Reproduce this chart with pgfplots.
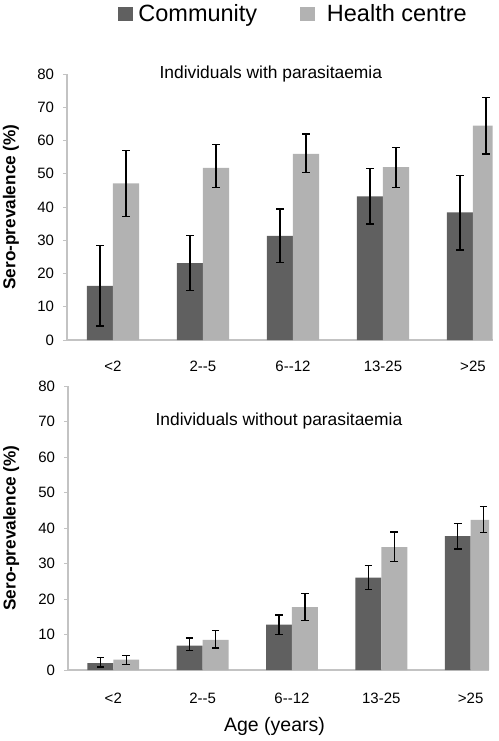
\documentclass[border=0pt]{standalone}
\usepackage{fontspec}
\setmainfont{Liberation Sans}[BoldFont={Liberation Sans Bold}]
\usepackage{pgfplots}
\pgfplotsset{compat=1.18}
\definecolor{darkbar}{RGB}{96,96,96}
\definecolor{lightbar}{RGB}{178,178,178}
\definecolor{axgray}{RGB}{195,195,195}
\newcommand{\tickfont}{\fontsize{15}{18}\selectfont}
\pgfplotsset{
  mystyle/.style={
    scale only axis,
    ymin=0, ymax=80, ytick={0,10,...,80},
    xtick={0,1,2,3,4},
    xticklabels={{<2},{2-\kern0pt-5},{6-\kern0pt-12},{13-25},{>25}},
    enlargelimits=false,
    axis lines*=left,
    axis line style={draw=axgray, line width=1.2pt},
    xtick style={draw=none},
    ytick style={draw=axgray, line width=1pt},
    tick align=outside,
    major tick length=4pt,
    /pgf/number format/assume math mode=true,
    yticklabel style={font=\tickfont, text=black, xshift=-5.5pt},
    xticklabel style={font=\tickfont, text=black},
    ylabel={\fontsize{17.2}{20}\selectfont\bfseries Sero-prevalence (\%)},
    ylabel style={anchor=center},
    title style={font=\fontsize{17.4}{20}\selectfont, anchor=base},
    bar width=0.29,
    clip=true,
  },
  dbar/.style={ybar, bar shift=0pt, fill=darkbar, draw=none,
    error bars/.cd, y dir=both, y explicit,
    error bar style={black, line width=1.3pt},
    error mark options={black, line width=1.3pt, mark size=3.8pt, rotate=90}},
  lbar/.style={ybar, bar shift=0pt, fill=lightbar, draw=none,
    error bars/.cd, y dir=both, y explicit,
    error bar style={black, line width=1.3pt},
    error mark options={black, line width=1.3pt, mark size=3.8pt, rotate=90}},
}
\begin{document}
\begin{tikzpicture}
\path[use as bounding box] (0pt,0pt) rectangle (498pt,-741pt);
% top panel
\begin{axis}[mystyle,
  at={(67pt,-340pt)}, anchor=south west,
  width=425.5pt, height=266pt,
  xmin=-0.51, xmax=4.217,
  xticklabel style={yshift=-13pt},
  ylabel style={at={(axis description cs:-0.1316,0.5)}},
  title={Individuals with parasitaemia},
  title style={at={(axis description cs:0.479,0.962)}},
  legend style={draw=none, fill=none, font=\fontsize{23.5}{26}\selectfont,
    at={(axis description cs:0.5293,1.2256)}, anchor=center,
    nodes={inner xsep=0pt},
    /tikz/column 1/.style={column sep=5.7pt},
    /tikz/column 2/.style={column sep=42.7pt},
    /tikz/column 3/.style={column sep=12pt}},
  legend columns=2,
  legend image code/.code={\draw[#1,draw=none] (0pt,-7pt) rectangle (15pt,7pt);},
]
\addplot[dbar] coordinates {
  (-0.145,16.3) += (0,12.1) -= (0,12.1)
  (0.855,23.1) += (0,8.4)  -= (0,8.3)
  (1.855,31.3) += (0,8.1)  -= (0,8.0)
  (2.855,43.2) += (0,8.3)  -= (0,8.3)
  (3.855,38.4) += (0,11.1) -= (0,11.3)
};
\addlegendentry{Community}
\addplot[lbar] coordinates {
  (0.145,47.1) += (0,9.8) -= (0,9.9)
  (1.145,51.8) += (0,7.0) -= (0,5.9)
  (2.145,56.0) += (0,6.0) -= (0,5.6)
  (3.145,52.0) += (0,5.9) -= (0,6.1)
  (4.145,64.5) += (0,8.4) -= (0,8.6)
};
\addlegendentry{Health centre}
\end{axis}
% bottom panel
\begin{axis}[mystyle,
  at={(68pt,-670pt)}, anchor=south west,
  width=421pt, height=284pt,
  xmin=-0.507, xmax=4.205,
  xticklabel style={yshift=-15pt},
  ylabel style={at={(axis description cs:-0.135,0.5)}},
  title={Individuals without parasitaemia},
  title style={at={(axis description cs:0.501,0.8415)}},
  xlabel={Age (years)},
  xlabel style={font=\fontsize{19.5}{22}\selectfont, at={(axis description cs:0.4905,-0.2148)}, anchor=base},
]
\addplot[dbar] coordinates {
  (-0.145,1.97) += (0,1.5) -= (0,1.1)
  (0.855,6.9)  += (0,2.1) -= (0,1.5)
  (1.855,12.8) += (0,2.7) -= (0,2.7)
  (2.855,26.0) += (0,3.4) -= (0,3.4)
  (3.855,37.7) += (0,3.6) -= (0,3.6)
};
\addplot[lbar] coordinates {
  (0.145,2.9)  += (0,1.1) -= (0,1.3)
  (1.145,8.5)  += (0,2.6) -= (0,2.3)
  (2.145,17.7) += (0,3.9) -= (0,3.7)
  (3.145,34.6) += (0,4.3) -= (0,4.0)
  (4.145,42.3) += (0,3.8) -= (0,3.5)
};
\end{axis}
\end{tikzpicture}
\end{document}
